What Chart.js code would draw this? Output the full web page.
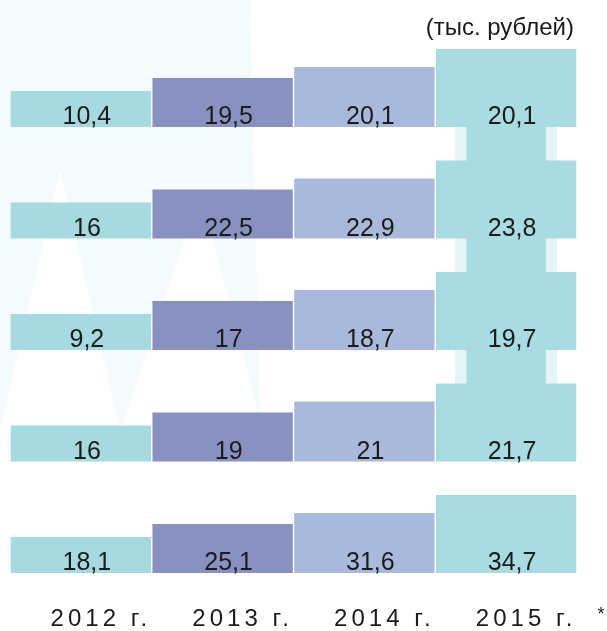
<!DOCTYPE html>
<html lang="ru">
<head>
<meta charset="utf-8">
<script src="https://cdn.jsdelivr.net/npm/chart.js@4.4.1/dist/chart.umd.min.js"></script>
<style>
  html, body { margin: 0; padding: 0; background: #fff; }
  #wrap { width: 607px; height: 631px; position: relative; }
</style>
</head>
<body>
<div id="wrap"><canvas id="grafico"></canvas></div>
<script>
// данные (тыс. рублей)
const years = ['2012 г.', '2013 г.', '2014 г.', '2015 г.'];
const row1 = [10.4, 19.5, 20.1, 20.1];
const row2 = [16, 22.5, 22.9, 23.8];
const row3 = [9.2, 17, 18.7, 19.7];
const row4 = [16, 19, 21, 21.7];
const row5 = [18.1, 25.1, 31.6, 34.7];
const rows = [row1, row2, row3, row4, row5];
const unitLabel = '(тыс. рублей)';
const footnoteMark = '*';

// оформление: "ступеньки" декоративные, высота не зависит от значения
const yearColors = ['#a6d9e0', '#8891bf', '#a9b9dc', '#a8dbe2'];
const stepHeight = [36, 49, 60, 78];
const firstBase = 127;
const rowPitch = 111.5;
const plotBottom = 573;

const datasets = [];
rows.forEach((vals, r) => {
  const base = firstBase + r * rowPitch;
  datasets.push({
    label: 'row' + (r + 1),
    data: vals.map((v, i) => [base - stepHeight[i], base]),
    backgroundColor: yearColors,
    grouped: false,
    barPercentage: 0.99,
    categoryPercentage: 1,
    order: 1
  });
});

// перемычки в столбце 2015 г. между верхними рядами
[[0.72, 'rgba(168,219,226,0.3)'], [0.56, yearColors[3]]].forEach(([bp, color]) => {
  for (let r = 0; r < 3; r++) {
    const top = firstBase + r * rowPitch;
    const next = firstBase + (r + 1) * rowPitch - stepHeight[3];
    datasets.push({
      label: 'neck',
      data: [null, null, null, [top - 2, next + 2]],
      backgroundColor: color,
      grouped: false,
      barPercentage: bp,
      categoryPercentage: 1,
      order: 2
    });
  }
});

const fontFamily = '"Liberation Sans", Arial, sans-serif';

const background = {
  id: 'background',
  beforeDraw(chart) {
    const ctx = chart.ctx;
    ctx.save();
    ctx.fillStyle = 'rgba(205,232,240,0.2)';
    ctx.beginPath();
    ctx.moveTo(0, 0);
    ctx.lineTo(250, 0);
    ctx.lineTo(260, 420);
    ctx.lineTo(200, 190);
    ctx.lineTo(120, 430);
    ctx.lineTo(60, 170);
    ctx.lineTo(0, 430);
    ctx.closePath();
    ctx.fill();
    ctx.restore();
    ctx.letterSpacing = '4px';
  }
};

const valueLabels = {
  id: 'valueLabels',
  afterDatasetsDraw(chart) {
    const ctx = chart.ctx;
    ctx.save();
    ctx.letterSpacing = '0px';
    ctx.font = '25px ' + fontFamily;
    ctx.fillStyle = '#1b1b1b';
    ctx.textAlign = 'center';
    ctx.textBaseline = 'alphabetic';
    rows.forEach((vals, r) => {
      chart.getDatasetMeta(r).data.forEach((bar, i) => {
        const bottom = Math.max(bar.y, bar.base);
        ctx.fillText(String(vals[i]).replace('.', ','), bar.x + 6, bottom - 3);
      });
    });
    ctx.restore();
  },
  afterDraw(chart) {
    const ctx = chart.ctx;
    ctx.save();
    ctx.letterSpacing = '0px';
    ctx.fillStyle = '#1b1b1b';
    ctx.font = '24px ' + fontFamily;
    ctx.textAlign = 'right';
    ctx.textBaseline = 'alphabetic';
    ctx.fillText(unitLabel, 574, 35);
    ctx.font = '18px ' + fontFamily;
    ctx.textAlign = 'center';
    ctx.fillText(footnoteMark, 601, 620);
    ctx.restore();
  }
};

new Chart(document.getElementById('grafico').getContext('2d'), {
  type: 'bar',
  data: { labels: years, datasets: datasets },
  options: {
    responsive: true,
    maintainAspectRatio: false,
    animation: false,
    layout: { padding: { left: 10, right: 30, top: 0, bottom: 0 } },
    plugins: { legend: { display: false }, tooltip: { enabled: false } },
    scales: {
      x: {
        grid: { display: false, drawTicks: false },
        border: { display: false },
        ticks: {
          font: { family: fontFamily, size: 24 },
          color: '#1b1b1b',
          labelOffset: 20,
          padding: 32,
          maxRotation: 0,
          autoSkip: false
        },
        afterFit(scale) { scale.height = 631 - plotBottom; }
      },
      y: { display: false, min: 0, max: plotBottom, reverse: true }
    }
  },
  plugins: [background, valueLabels]
});
</script>
</body>
</html>
